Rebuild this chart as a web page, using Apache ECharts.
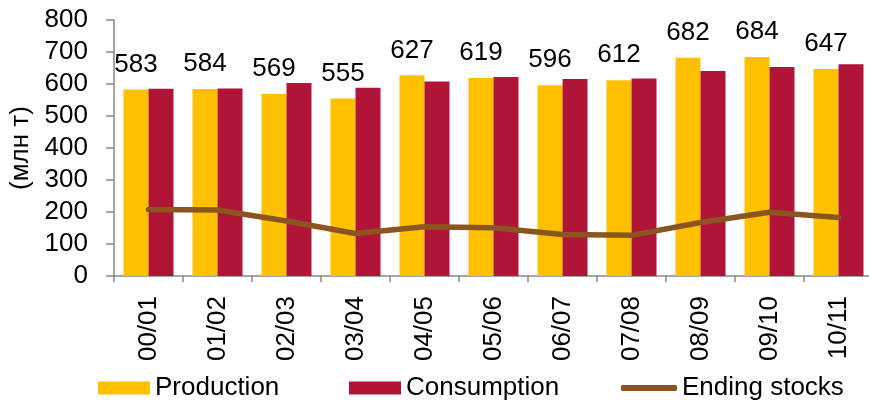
<!DOCTYPE html>
<html>
<head>
<meta charset="utf-8">
<script src="https://cdn.jsdelivr.net/npm/echarts@6/dist/echarts.min.js"></script>
<style>
html,body{margin:0;padding:0;background:#fff;}
#c{width:869px;height:402px;}
</style>
</head>
<body>
<div id="c"></div>
<script>
const categories = ['00/01','01/02','02/03','03/04','04/05','05/06','06/07','07/08','08/09','09/10','10/11'];
const production = [583,584,569,555,627,619,596,612,682,684,647];
const consumption = [585,586,603,588,608,622,616,617,641,653,662];
const endingStocks = [208,206,172,133,154,151,130,127,167,199,183];
const yTicks = {min:0, max:800, interval:100};

const FONT = 'Liberation Sans, Arial, sans-serif';
const FS = 26;
const chart = echarts.init(document.getElementById('c'), null, {renderer:'canvas'});
const legendText = {fontSize:FS, color:'#000', fontFamily:FONT};
chart.setOption({
  animation:false,
  backgroundColor:'#fff',
  grid:{left:114, top:20, width:759, height:256, outerBoundsMode:'none', containLabel:false},
  legend:[
    {left:98, top:375, itemWidth:52, itemHeight:13, data:[{name:'Production', icon:'rect'}], textStyle:legendText, padding:0},
    {left:349, top:375, itemWidth:52, itemHeight:13, data:[{name:'Consumption', icon:'rect'}], textStyle:legendText, padding:0},
    {left:621, top:375, itemWidth:56, itemHeight:6, data:[{name:'Ending stocks', icon:'roundRect'}], textStyle:legendText, padding:0}
  ],
  xAxis:{
    type:'category', data:categories,
    axisLine:{lineStyle:{color:'#888', width:1.5}},
    axisTick:{show:true, length:6, lineStyle:{color:'#888', width:1.5}},
    axisLabel:{rotate:90, margin:20, fontSize:FS, color:'#000', fontFamily:FONT}
  },
  yAxis:{
    type:'value', min:yTicks.min, max:yTicks.max, interval:yTicks.interval,
    name:'(млн т)', nameLocation:'middle', nameGap:80, nameRotate:90,
    nameTextStyle:{fontSize:FS, color:'#000', fontFamily:FONT},
    splitLine:{show:false},
    axisLine:{show:true, lineStyle:{color:'#888', width:1.5}},
    axisTick:{show:true, length:8, lineStyle:{color:'#888', width:1.5}},
    axisLabel:{margin:26, fontSize:FS, color:'#000', fontFamily:FONT}
  },
  series:[
    {name:'Production', type:'bar', data:production, barWidth:25, barGap:'0%',
     itemStyle:{color:'#FFC000'},
     label:{show:true, position:'top', distance:12, fontSize:FS, color:'#000', fontFamily:FONT}},
    {name:'Consumption', type:'bar', data:consumption, barWidth:25, barGap:'0%',
     itemStyle:{color:'#B01538'}},
    {name:'Ending stocks', type:'line', data:endingStocks, symbol:'none',
     lineStyle:{color:'#8B5520', width:5.5, cap:'round'}, itemStyle:{color:'#8B5520'}}
  ]
});
</script>
</body>
</html>
